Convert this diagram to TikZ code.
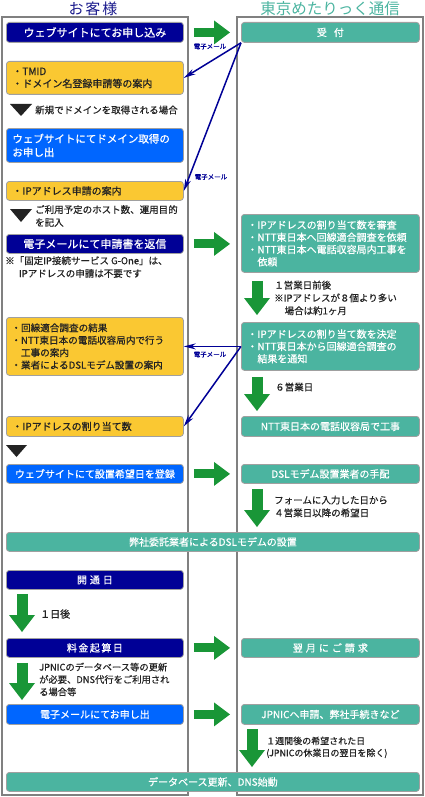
\documentclass[tikz,border=0pt]{standalone}
\usepackage{fontspec}
\setmainfont{Noto Sans CJK JP}[FakeBold=0.6]
\newfontfamily\titlefont{Noto Sans CJK JP}
\usetikzlibrary{arrows.meta,calc}
\definecolor{navyc}{RGB}{0,0,150}
\definecolor{bluec}{RGB}{0,102,255}
\definecolor{yelc}{RGB}{250,200,50}
\definecolor{tealc}{RGB}{75,180,160}
\definecolor{greenc}{RGB}{25,150,55}
\definecolor{titleblue}{RGB}{25,25,140}
\definecolor{txt}{RGB}{35,35,35}
\definecolor{bord}{RGB}{128,128,128}
\begin{document}
\begin{tikzpicture}[x=1pt,y=-1pt,
  box/.style={draw=bord!75, line width=0.8pt, rounded corners=3pt, anchor=north west,
    inner xsep=6pt, inner ysep=0pt, font=\fontsize{10}{12.3}\selectfont},
  lbox/.style={box, minimum width=177pt},
  rbox/.style={box, minimum width=178pt, fill=tealc, text=white},
  wbox/.style={box, minimum width=413pt, fill=tealc, text=white},
  navybox/.style={lbox, fill=navyc, text=white},
  bluebox/.style={lbox, fill=bluec, text=white},
  yelbox/.style={lbox, fill=yelc, text=txt},
  multi/.style={text width=#1, align=left},
  note/.style={inner sep=0pt, text=txt, font=\fontsize{9.5}{12.8}\selectfont, align=left},
  maillabel/.style={inner sep=0pt, text=navyc, font=\fontsize{6.5}{7}\selectfont},
  garrow/.style={draw=greenc, line width=9pt, -{Triangle[width=24pt,length=16pt,line width=0pt]}},
  gdown/.style={draw=greenc, line width=11pt, -{Triangle[width=26pt,length=17pt,line width=0pt]}},
  mail/.style={draw=navyc, line width=1.5pt, -{Stealth[length=12pt,width=6pt,line width=0pt]}},
  colb/.style={draw=bord, line width=1.2pt},
  tri/.style={fill=txt}
]
\useasboundingbox (0,0) rectangle (425,797);

% column frames
\draw[colb] (2,17) rectangle (188,795);
\draw[colb] (237,17) rectangle (423,795);

% titles
\node[font=\titlefont\fontsize{15}{15}\selectfont, text=titleblue] (h1) at (93,8.5) {お\hspace{2pt}客\hspace{2pt}様};
\node[font=\titlefont\fontsize{15.5}{15.5}\selectfont, text=tealc] (h2) at (330,8.5) {東京めたりっく通信};

% row 1
\node[navybox, minimum height=20pt, font=\fontsize{11}{13}\selectfont] (a1) at (6,22) {ウェブサイトにてお申し込み};
\node[rbox, minimum height=20pt] (r1) at (241,22) {受\hspace{7pt}付};
\draw[garrow] ([xshift=10pt]a1.east) -- ($(a1.east -| r1.west)+(-11,0)$);

\node[yelbox, minimum height=33pt, multi=165pt] (y1) at (6,61) {・TMID\\・ドメイン名登録申請等の案内};

\fill[tri] (10,104) -- (32,104) -- (21,116) -- cycle;
\node[note, anchor=west] (t1) at (35,110) {新規でドメインを取得される場合};

\node[bluebox, minimum height=34pt, multi=165pt, font=\fontsize{10.5}{13.5}\selectfont] (a2) at (6,128) {ウェブサイトにてドメイン取得の\\お申し出};

\node[yelbox, minimum height=19pt, multi=165pt] (y2) at (6,181) {・IPアドレス申請の案内};

\fill[tri] (10,209) -- (32,209) -- (21,222) -- cycle;
\node[note, anchor=north west] (t2) at (35,205) {ご利用予定のホスト数、運用目的\\を記入};

\node[navybox, minimum height=19pt, font=\fontsize{11}{13}\selectfont] (a3) at (6,234) {電子メールにて申請書を返信};
\node[note, anchor=north west] (n1) at (5,256) {※「固定IP接続サービス G-One」は、\\\hspace*{1.45em}IPアドレスの申請は不要です};

\node[rbox, minimum height=58pt, multi=166pt] (r2) at (241,214) {・IPアドレスの割り当て数を審査\\・NTT東日本へ回線適合調査を依頼\\・NTT東日本へ電話収容局内工事を\\\hspace*{1em}依頼};
\draw[garrow] ([xshift=10pt]a3.east) -- ($(a3.east -| r2.west)+(-11,0)$);

% mail arrows (top)
\draw[mail] (r1.south west) -- (y1.east);
\draw[mail] (r1.south west) -- (y2.east);
\node[maillabel] (m1) at (210,46.5) {電子メール};
\node[maillabel] (m2) at (211,177) {電子メール};

% right column middle
\node[rbox, minimum height=48pt, multi=166pt] (r3) at (241,322) {・IPアドレスの割り当て数を決定\\・NTT東日本から回線適合調査の\\\hspace*{1em}結果を通知};
\draw[gdown] ($(r2.south west)+(16,8)$) -- ($(r3.north west)+(16,-7)$);
\node[note, anchor=north west] (d1) at (274,280.5) {１営業日前後\\※IPアドレスが８個より多い\\\hspace*{1.1em}場合は約1ヶ月};

\node[rbox, minimum height=20pt] (r4) at (241,416) {NTT東日本の電話収容局で工事};
\draw[gdown] ($(r3.south west)+(16,6)$) -- ($(r4.north west)+(16,-5)$);
\node[note, anchor=west] (d2) at (275,387) {６営業日};

\node[yelbox, minimum height=58pt, multi=167pt, inner xsep=5pt, font=\fontsize{9.6}{12.4}\selectfont] (y3) at (6,317) {・回線適合調査の結果\\・NTT東日本の電話収容局内で行う\\\hspace*{1em}工事の案内\\・業者によるDSLモデム設置の案内};
\node[yelbox, minimum height=20pt, multi=165pt] (y4) at (6,416) {・IPアドレスの割り当て数};

\draw[mail] (r3.west) -- (y3.east);
\draw[mail] (r3.west) -- (y4.east);
\node[maillabel] (m3) at (210,354.5) {電子メール};

% DSL
\fill[tri] (6,445) -- (27,445) -- (16.5,457) -- cycle;
\node[bluebox, minimum height=19pt] (a4) at (6,464) {ウェブサイトにて設置希望日を登録};
\node[rbox, minimum height=19pt] (r5) at (241,464) {DSLモデム設置業者の手配};
\draw[garrow] ([xshift=10pt]a4.east) -- ($(a4.east -| r5.west)+(-11,0)$);

\node[wbox, minimum height=19pt] (w1) at (6,532) {弊社委託業者によるDSLモデムの設置};
\draw[gdown] ($(r5.south west)+(16,5)$) -- ($(r5.south west |- w1.north)+(16,-5)$);
\node[note, anchor=north west] (d3) at (274,495.5) {フォームに入力した日から\\４営業日以降の希望日};

% opening
\node[navybox, minimum height=19pt] (a5) at (6,570) {開\hspace{3pt}通\hspace{3pt}日};
\node[navybox, minimum height=19pt] (a6) at (6,638) {料\hspace{1.5pt}金\hspace{1.5pt}起\hspace{1.5pt}算\hspace{1.5pt}日};
\draw[gdown] ($(a5.south west)+(16,4)$) -- ($(a6.north west)+(16,-6)$);
\node[note, anchor=west, font=\fontsize{10}{12}\selectfont] (d4) at (40,614) {１日後};

\node[rbox, minimum height=19pt] (r6) at (241,638) {翌\hspace{3pt}月\hspace{3pt}に\hspace{3pt}ご\hspace{3pt}請\hspace{3pt}求};
\draw[garrow] ([xshift=10pt]a6.east) -- ($(a6.east -| r6.west)+(-11,0)$);

\node[bluebox, minimum height=20pt] (a7) at (6,704) {電子メールにてお申し出};
\draw[gdown] ($(a6.south west)+(16,5)$) -- ($(a7.north west)+(16,-4)$);
\node[note, anchor=north west, font=\fontsize{9.3}{12.4}\selectfont] (d5) at (39,662.5) {JPNICのデータベース等の更新\\が必要、DNS代行をご利用され\\る場合等};

\node[rbox, minimum height=20pt] (r7) at (241,704) {JPNICへ申請、弊社手続きなど};
\draw[garrow] ([xshift=10pt]a7.east) -- ($(a7.east -| r7.west)+(-11,0)$);

\node[wbox, minimum height=19pt] (w2) at (6,772) {データベース更新、DNS始動};
\draw[gdown] ($(r7.south west)+(11,4)$) -- ($(r7.south west |- w2.north)+(11,-5)$);
\node[note, anchor=north west, font=\fontsize{9}{12}\selectfont] (d6) at (266,736.5) {１週間後の希望された日\\(JPNICの休業日の翌日を除く)};

\end{tikzpicture}
\end{document}
